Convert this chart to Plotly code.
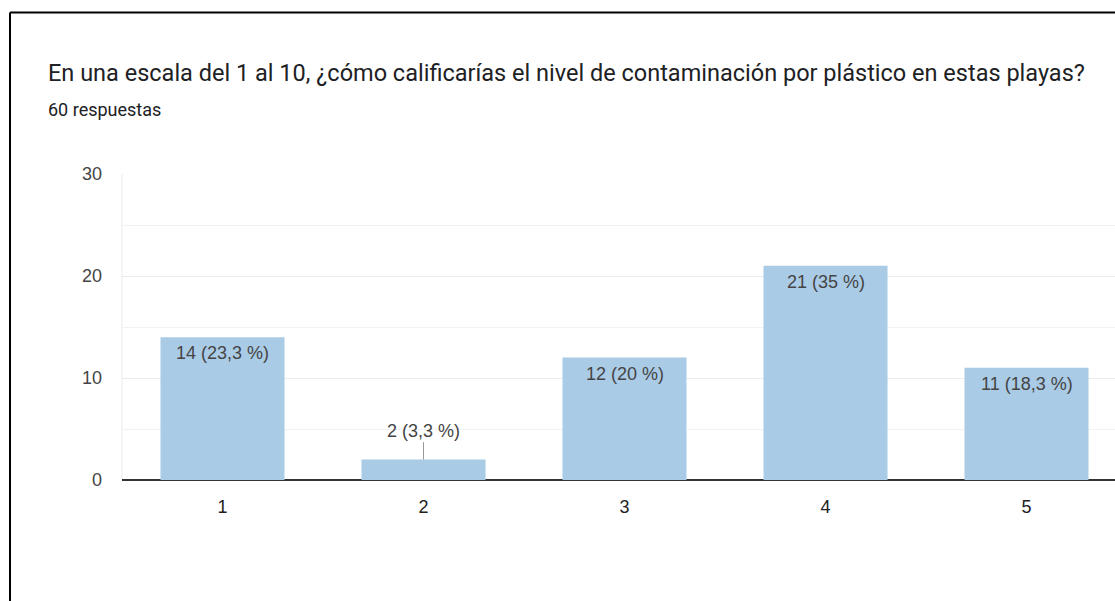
import plotly.graph_objects as go

categories = ["1", "2", "3", "4", "5"]
counts = [14, 2, 12, 21, 11]
percents = ["23,3", "3,3", "20", "35", "18,3"]
total_responses = 60

title_text = "En una escala del 1 al 10, ¿cómo calificarías el nivel de contaminación por plástico en estas playas?"
subtitle_text = f"{total_responses} respuestas"

W, H = 1115, 601
L, R, T, B = 122, 0, 174, 121
plot_w = W - L - R
plot_h = H - T - B

def px_x(px):
    return (px - L) / plot_w

def px_y(py):
    return (H - B - py) / plot_h

bar_color = "#aacbe6"
text_color = "#444444"
head_font = "Roboto, Arial, sans-serif"
chart_font = "Arial, 'Liberation Sans', sans-serif"

xpos = list(range(1, len(categories) + 1))

fig = go.Figure(
    go.Bar(
        x=xpos,
        y=counts,
        width=0.617,
        marker=dict(color=bar_color, line=dict(width=0)),
        hoverinfo="skip",
    )
)

annotations = []
for x, c, p in zip(xpos, counts, percents):
    label = f"{c} ({p} %)"
    if c < 4:
        annotations.append(dict(
            x=x, y=c, xref="x", yref="y", text=label,
            showarrow=True, arrowhead=0, arrowwidth=1, arrowcolor="#999999",
            ax=0, ay=-29, standoff=0,
            font=dict(family=chart_font, size=18, color=text_color),
        ))
    else:
        annotations.append(dict(
            x=x, y=c, xref="x", yref="y", text=label,
            showarrow=False, yanchor="top", yshift=-4,
            font=dict(family=chart_font, size=18, color=text_color),
        ))

annotations.append(dict(
    x=px_x(46), y=px_y(73), xref="paper", yref="paper",
    xanchor="left", yanchor="middle", showarrow=False,
    text=title_text, font=dict(family=head_font, size=23.5, color="#202124"),
))
annotations.append(dict(
    x=px_x(46), y=px_y(109), xref="paper", yref="paper",
    xanchor="left", yanchor="middle", showarrow=False,
    text=subtitle_text, font=dict(family=head_font, size=18, color="#202124"),
))

shapes = [
    # outer frame (top and left edges)
    dict(type="line", xref="paper", yref="paper",
         x0=px_x(10), x1=px_x(W + 20), y0=px_y(12.5), y1=px_y(12.5),
         line=dict(color="#000000", width=2)),
    dict(type="line", xref="paper", yref="paper",
         x0=px_x(10), x1=px_x(10), y0=px_y(12.5), y1=px_y(H + 20),
         line=dict(color="#000000", width=2)),
    # left border of plotting area
    dict(type="line", xref="paper", yref="paper",
         x0=0, x1=0, y0=0, y1=1,
         line=dict(color="#ebebeb", width=1), layer="below"),
]

fig.update_layout(
    width=W, height=H,
    margin=dict(l=L, r=R, t=T, b=B, pad=0),
    paper_bgcolor="white", plot_bgcolor="white",
    showlegend=False,
    annotations=annotations,
    shapes=shapes,
    xaxis=dict(
        range=[0.5, 0.5 + plot_w / 201.0],
        tickvals=xpos, ticktext=categories,
        showgrid=False, zeroline=False,
        showline=False, ticks="", ticklabelstandoff=14,
        tickfont=dict(family=chart_font, size=18, color="#222222"),
        fixedrange=True,
    ),
    yaxis=dict(
        range=[0, 30],
        tickvals=[0, 10, 20, 30],
        showgrid=True, gridcolor="#ebebeb", gridwidth=1,
        minor=dict(dtick=5, showgrid=True, gridcolor="#f2f2f2", gridwidth=1),
        zeroline=True, zerolinecolor="#333333", zerolinewidth=2,
        ticks="", ticklabelstandoff=19,
        tickfont=dict(family=chart_font, size=18, color=text_color),
        fixedrange=True,
    ),
)

fig.write_html("out.html")
